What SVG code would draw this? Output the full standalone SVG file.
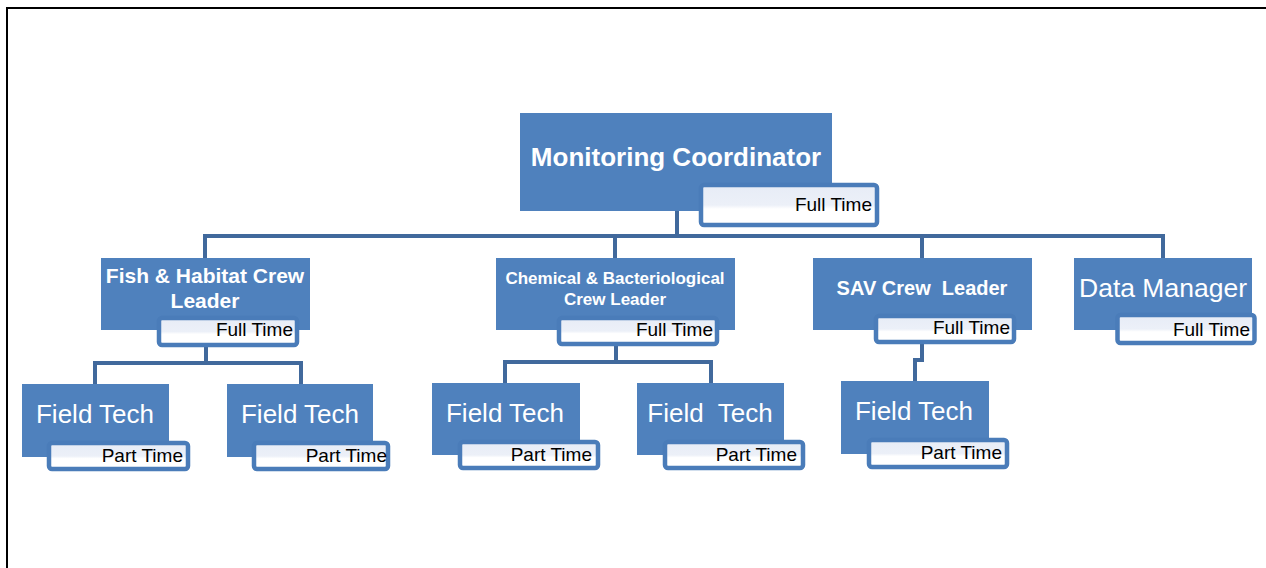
<svg xmlns="http://www.w3.org/2000/svg" width="1266" height="568" viewBox="0 0 1266 568">
<defs>
<linearGradient id="subfill" x1="0" y1="0" x2="0" y2="1">
<stop offset="0" stop-color="#E7ECF6"/>
<stop offset="0.5" stop-color="#ECF0F8"/>
<stop offset="0.6" stop-color="#FFFFFF"/>
<stop offset="1" stop-color="#FFFFFF"/>
</linearGradient>
<style>
.box{fill:#4F81BD;}
.sub{fill:url(#subfill);stroke:#4A7CB9;stroke-width:4.5;}
.conn{fill:none;stroke:#41699C;stroke-width:4;}
.tb{font-family:"Liberation Sans",Arial,sans-serif;font-weight:bold;fill:#FFFFFF;text-anchor:middle;white-space:pre;}
.tn{font-family:"Liberation Sans",Arial,sans-serif;fill:#FFFFFF;text-anchor:middle;white-space:pre;}
.st{font-family:"Liberation Sans",Arial,sans-serif;fill:#000000;text-anchor:end;font-size:19px;}
</style>
</defs>
<rect x="0" y="0" width="1266" height="568" fill="#FFFFFF"/>
<path d="M7,568 V8 H1266" fill="none" stroke="#000000" stroke-width="2"/>

<g id="connectors">
<path class="conn" d="M677,211 V236"/>
<path class="conn" d="M205,258 V236 H1163 V258"/>
<path class="conn" d="M615,236 V258"/>
<path class="conn" d="M922,236 V258"/>
<path class="conn" d="M206,346 V363"/>
<path class="conn" d="M95,384 V363 H301 V384"/>
<path class="conn" d="M616,346 V362"/>
<path class="conn" d="M505,383 V362 H711 V383"/>
<path class="conn" d="M922,344 V360 H915 V381"/>
</g>

<g id="monitoring-coordinator">
<rect class="box" x="520" y="113" width="312" height="98"/>
<rect class="sub" x="701" y="185" width="176" height="40" rx="3"/>
<text class="tb" x="676" y="166" font-size="26">Monitoring Coordinator</text>
<text class="st" x="872" y="211">Full Time</text>
</g>

<g id="fish-habitat">
<rect class="box" x="101" y="258" width="209" height="72"/>
<rect class="sub" x="159" y="318" width="138" height="27" rx="3"/>
<text class="tb" x="205" y="283" font-size="21">Fish &amp; Habitat Crew</text>
<text class="tb" x="205" y="308" font-size="21">Leader</text>
<text class="st" x="293" y="336">Full Time</text>
</g>

<g id="chemical-bacteriological">
<rect class="box" x="496" y="258" width="239" height="72"/>
<rect class="sub" x="559" y="318" width="158" height="26" rx="3"/>
<text class="tb" x="615" y="284" font-size="17">Chemical &amp; Bacteriological</text>
<text class="tb" x="615" y="305" font-size="17">Crew Leader</text>
<text class="st" x="713" y="336">Full Time</text>
</g>

<g id="sav-crew-leader">
<rect class="box" x="813" y="258" width="219" height="72"/>
<rect class="sub" x="876" y="316" width="138" height="26" rx="3"/>
<text class="tb" x="922" y="295" font-size="20">SAV Crew  Leader</text>
<text class="st" x="1010" y="334" font-size="16">Full Time</text>
</g>

<g id="data-manager">
<rect class="box" x="1074" y="258" width="178" height="72"/>
<rect class="sub" x="1117.5" y="315" width="137" height="28" rx="3"/>
<text class="tn" x="1163" y="297" font-size="26.5">Data Manager</text>
<text class="st" x="1250" y="336">Full Time</text>
</g>

<g id="field-tech-1">
<rect class="box" x="22" y="384" width="147" height="73"/>
<rect class="sub" x="49" y="443" width="139" height="26" rx="3"/>
<text class="tn" x="95" y="423" font-size="26">Field Tech</text>
<text class="st" x="183" y="462">Part Time</text>
</g>

<g id="field-tech-2">
<rect class="box" x="227" y="384" width="146" height="73"/>
<rect class="sub" x="254" y="443" width="134" height="26" rx="3"/>
<text class="tn" x="300" y="423" font-size="26">Field Tech</text>
<text class="st" x="387" y="462">Part Time</text>
</g>

<g id="field-tech-3">
<rect class="box" x="432" y="383" width="148" height="72"/>
<rect class="sub" x="460" y="442" width="138" height="26" rx="3"/>
<text class="tn" x="505" y="422" font-size="26">Field Tech</text>
<text class="st" x="592" y="461">Part Time</text>
</g>

<g id="field-tech-4">
<rect class="box" x="637" y="383" width="147" height="72"/>
<rect class="sub" x="665" y="442" width="138" height="26" rx="3"/>
<text class="tn" x="710" y="422" font-size="26">Field  Tech</text>
<text class="st" x="797" y="461">Part Time</text>
</g>

<g id="field-tech-5">
<rect class="box" x="841" y="381" width="148" height="73"/>
<rect class="sub" x="869" y="440" width="138" height="27" rx="3"/>
<text class="tn" x="914" y="420" font-size="26">Field Tech</text>
<text class="st" x="1002" y="459">Part Time</text>
</g>
</svg>
